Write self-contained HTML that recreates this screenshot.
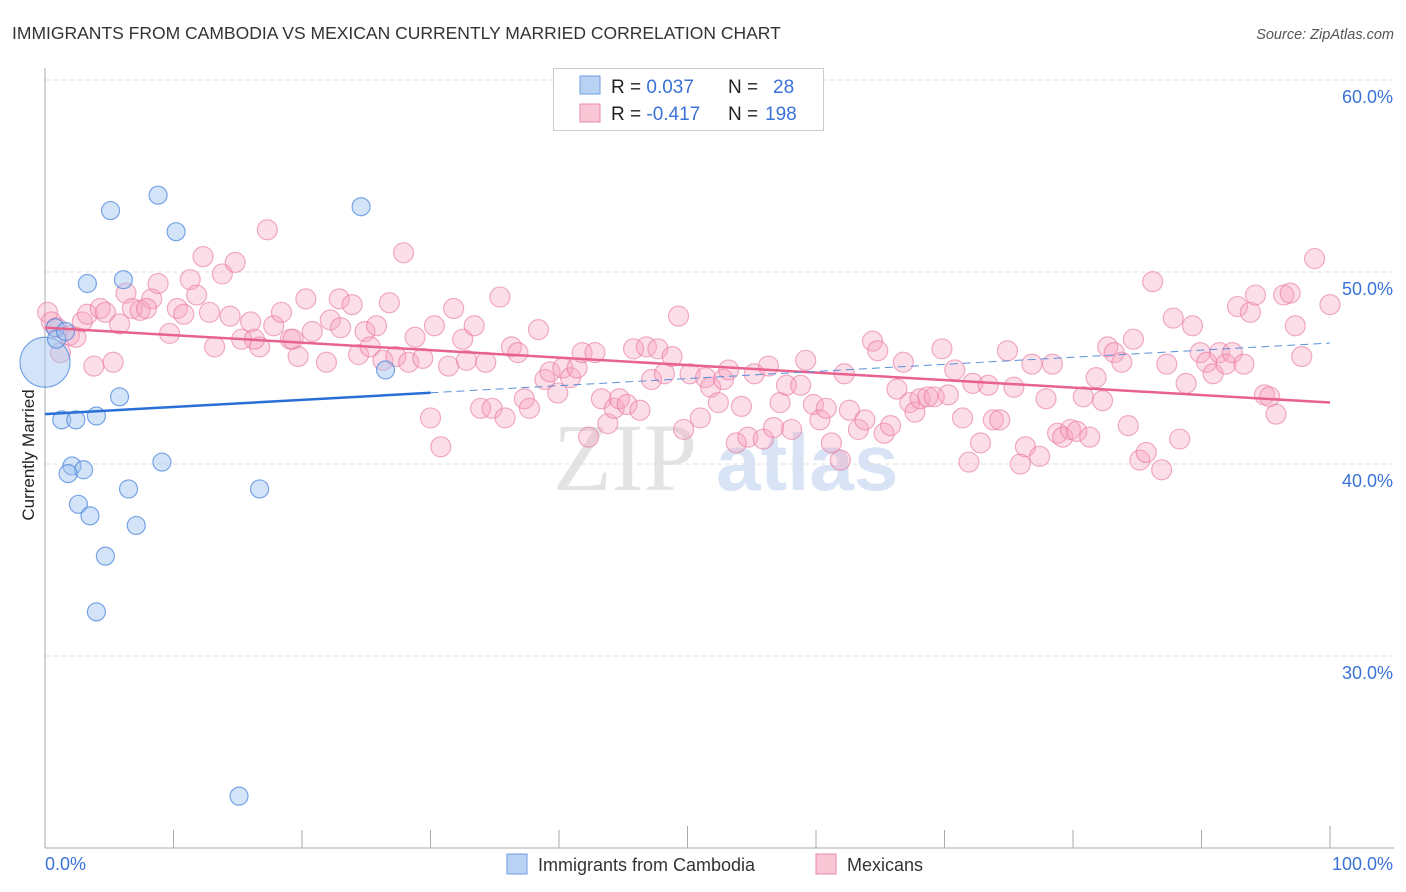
<!DOCTYPE html>
<html><head><meta charset="utf-8"><style>
body{margin:0;background:#fff;font-family:"Liberation Sans",sans-serif;}
svg{display:block}
</style></head><body>
<svg width="1406" height="892" id="chart">
<text x="12" y="39" font-size="17.5" fill="#333">IMMIGRANTS FROM CAMBODIA VS MEXICAN CURRENTLY MARRIED CORRELATION CHART</text>
<text x="1394" y="39" font-size="14.5" fill="#555" font-style="italic" text-anchor="end">Source: ZipAtlas.com</text>
<g>
<text x="553" y="490" font-size="96" fill="#ddd" font-family="Liberation Serif" opacity="0.8">ZIP</text>
<text x="716" y="490" font-size="80" fill="#c8daf2" opacity="0.7" font-weight="bold">atlas</text>
</g>
<g id="grid"></g>
<g id="axes"></g>
<g id="marks"></g>
<text transform="translate(34,455) rotate(-90)" font-size="17" fill="#222" text-anchor="middle">Currently Married</text>
<g>
<rect x="553.5" y="68.5" width="270" height="62" fill="#fff" stroke="#ccc"/>
<rect x="580" y="76" width="20" height="18" fill="#b8d2f4" stroke="#6f9ee0"/>
<rect x="580" y="104" width="20" height="18" fill="#f9c6d6" stroke="#ea8aab"/>
<text x="611" y="93" font-size="19" fill="#222">R = <tspan fill="#3a72d8"> 0.037</tspan><tspan x="728">N = </tspan><tspan x="773" fill="#3a72d8">28</tspan></text>
<text x="611" y="120" font-size="19" fill="#222">R = <tspan fill="#3a72d8">-0.417</tspan><tspan x="728">N = </tspan><tspan x="765" fill="#3a72d8">198</tspan></text>
</g>
<g>
<rect x="507" y="854" width="20" height="20" fill="#b8d2f4" stroke="#6f9ee0"/>
<text x="538" y="871" font-size="18" fill="#333">Immigrants from Cambodia</text>
<rect x="816" y="854" width="20" height="20" fill="#f9c6d6" stroke="#ea8aab"/>
<text x="847" y="871" font-size="18" fill="#333">Mexicans</text>
</g>
</svg>
<script>
const yTicks=[30,40,50,60];
const yTickLabels=["30.0%","40.0%","50.0%","60.0%"];
const xTickLabels=["0.0%","100.0%"];
const cambodiaX=[0,0.8,0.9,1.6,3.3,5.1,6.1,8.8,10.2,1.3,2.4,4.0,5.8,2.1,3.0,1.8,2.6,3.5,6.5,9.1,7.1,4.7,4.0,16.7,26.5,24.6,15.1];
const cambodiaY=[45.3,47.1,46.5,46.9,49.4,53.2,49.6,54.0,52.1,42.3,42.3,42.5,43.5,39.9,39.7,39.5,37.9,37.3,38.7,40.1,36.8,35.2,32.3,38.7,44.9,53.4,22.7];
const mexX=[0.2,0.5,1.2,0.9,1.9,2.4,2.9,3.3,4.3,4.7,5.8,3.8,5.3,6.3,6.8,7.4,8.3,8.8,7.9,9.7,10.3,10.8,11.3,11.8,12.3,13.2,12.8,13.8,14.4,14.8,15.3,16.0,16.7,16.3,17.3,17.8,18.4,19.1,19.7,19.3,20.3,20.8,21.9,22.2,23.0,22.9,23.9,24.4,24.9,25.3,25.8,26.3,26.8,27.3,27.9,28.3,28.8,29.4,30.0,30.3,30.8,31.4,31.8,32.5,32.8,33.4,33.9,34.3,34.8,35.4,35.8,36.3,36.8,37.3,37.7,38.4,38.9,39.3,39.9,40.3,40.9,41.4,41.8,42.3,42.8,43.3,43.8,44.3,44.7,45.3,45.8,46.3,46.8,47.2,47.7,48.2,48.8,49.3,49.7,50.2,51.0,51.4,51.8,52.4,52.8,53.2,53.8,54.2,54.7,55.2,55.9,56.3,56.7,57.2,57.7,58.1,58.8,59.2,59.8,60.3,60.8,61.2,61.9,62.2,62.6,63.3,63.8,64.4,64.8,65.3,65.8,66.3,66.8,67.3,67.7,68.1,68.7,69.2,69.8,70.3,70.8,71.4,71.9,72.2,72.8,73.4,73.8,74.3,74.9,75.4,75.9,76.3,76.8,77.4,77.9,78.4,78.8,79.2,79.8,80.3,80.8,81.3,81.8,82.3,82.7,83.2,83.8,84.3,84.7,85.2,85.7,86.2,86.9,87.3,87.8,88.3,88.8,89.3,89.9,90.4,90.9,91.4,91.9,92.4,92.8,93.3,93.8,94.2,94.9,95.3,95.8,96.4,96.9,97.3,97.8,98.8,100.0];
const mexY=[47.9,47.4,45.8,47.1,46.7,46.6,47.4,47.8,48.1,47.9,47.3,45.1,45.3,48.9,48.1,48.0,48.6,49.4,48.1,46.8,48.1,47.8,49.6,48.8,50.8,46.1,47.9,49.9,47.7,50.5,46.5,47.4,46.1,46.5,52.2,47.2,47.9,46.5,45.6,46.5,48.6,46.9,45.3,47.5,47.1,48.6,48.3,45.7,46.9,46.1,47.2,45.4,48.4,45.6,51.0,45.3,46.6,45.5,42.4,47.2,40.9,45.1,48.1,46.5,45.4,47.2,42.9,45.3,42.9,48.7,42.4,46.1,45.8,43.4,42.9,47.0,44.4,44.8,43.7,45.0,44.5,45.0,45.8,41.4,45.8,43.4,42.1,42.9,43.4,43.1,46.0,42.8,46.1,44.4,46.0,44.7,45.6,47.7,41.8,44.7,42.4,44.5,44.0,43.2,44.4,44.9,41.1,43.0,41.4,44.7,41.3,45.1,41.9,43.2,44.1,41.8,44.1,45.4,43.1,42.3,42.9,41.1,40.2,44.7,42.8,41.8,42.3,46.4,45.9,41.6,42.0,43.9,45.3,43.2,42.7,43.4,43.5,43.5,46.0,43.6,44.9,42.4,40.1,44.2,41.1,44.1,42.3,42.3,45.9,44.0,40.0,40.9,45.2,40.4,43.4,45.2,41.6,41.4,41.8,41.7,43.5,41.4,44.5,43.3,46.1,45.8,45.3,42.0,46.5,40.2,40.6,49.5,39.7,45.2,47.6,41.3,44.2,47.2,45.8,45.3,44.7,45.8,45.2,45.8,48.2,45.2,47.9,48.8,43.6,43.5,42.6,48.8,48.9,47.2,45.6,50.7,48.3];
const cambTrend=[42.6,46.3];
const mexTrend=[47.1,43.2];
const NS='http://www.w3.org/2000/svg';
const X0=45,X1=1330,Y60=80,PXPER=19.2;
function sx(v){return X0+(X1-X0)*v/100;}
function sy(v){return Y60+(60-v)*PXPER;}
function mk(tag,attrs,parent){const e=document.createElementNS(NS,tag);for(const k in attrs)e.setAttribute(k,attrs[k]);parent.appendChild(e);return e;}
const grid=document.getElementById('grid'),axes=document.getElementById('axes'),marks=document.getElementById('marks');
yTicks.forEach((t,i)=>{
  const l=mk('line',{x1:X0,x2:1394,y1:sy(t),y2:sy(t),stroke:'#ddd','stroke-dasharray':'4,4'},grid);
  
  
  const tx=mk('text',{x:1393,y:sy(t)+23,'font-size':18,fill:'#3a72d8','text-anchor':'end'},axes);
  tx.textContent=yTickLabels[i];
  
  
});
let a=mk('line',{x1:X0,x2:X0,y1:68,y2:sy(20),stroke:'#aaa'},axes);


a=mk('line',{x1:X0,x2:1394,y1:sy(20),y2:sy(20),stroke:'#aaa'},axes);


for(let i=1;i<=10;i++){
  const t=mk('line',{x1:sx(i*10),x2:sx(i*10),y1:sy(20)-(i==5||i==10?22:18),y2:sy(20),stroke:'#aaa'},axes);
  
  
}
[[0,'start',45],[100,'end',1393]].forEach((d,i)=>{
  const t=mk('text',{x:d[2],y:870,'font-size':18,fill:'#3a72d8','text-anchor':d[1]},axes);
  t.textContent=xTickLabels[i];
  
  
});
mexX.forEach((x,i)=>{
  const c=mk('circle',{cx:sx(x),cy:sy(mexY[i]),r:10,fill:'rgba(245,160,190,0.35)',stroke:'rgba(232,120,160,0.6)','stroke-width':1.2},marks);
  
  
});
cambodiaX.forEach((x,i)=>{
  const c=mk('circle',{cx:sx(x),cy:sy(cambodiaY[i]),r:i==0?25:9,fill:'rgba(160,195,240,0.45)',stroke:'rgba(70,130,220,0.7)','stroke-width':1.2},marks);
  
  
});
function tv(tr,x){return tr[0]+(tr[1]-tr[0])*x/100;}
let l=mk('line',{x1:sx(0),y1:sy(tv(mexTrend,0)),x2:sx(100),y2:sy(tv(mexTrend,100)),stroke:'#e8628f','stroke-width':2.5},marks);


l=mk('line',{x1:sx(0),y1:sy(tv(cambTrend,0)),x2:sx(30),y2:sy(tv(cambTrend,30)),stroke:'#2a6fd6','stroke-width':2.5},marks);


l=mk('line',{x1:sx(30),y1:sy(tv(cambTrend,30)),x2:sx(100),y2:sy(tv(cambTrend,100)),stroke:'#5b8fdc','stroke-width':1,'stroke-dasharray':'8,5'},marks);


</script>
</body></html>
